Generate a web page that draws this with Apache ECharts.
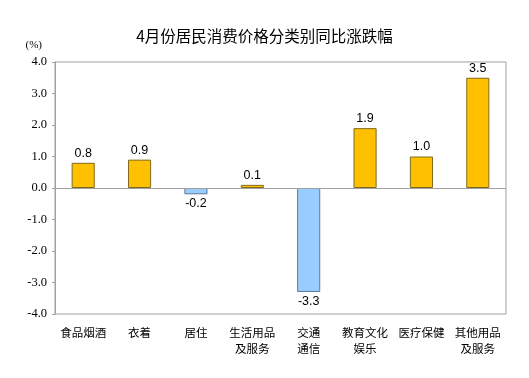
<!DOCTYPE html>
<html>
<head>
<meta charset="utf-8">
<script src="https://cdn.jsdelivr.net/npm/echarts@6/dist/echarts.min.js"></script>
<style>
  html, body { margin: 0; padding: 0; background: #fff; }
  #main { width: 529px; height: 378px; }
</style>
</head>
<body>
<div id="main"></div>
<script>
// 分类
const categories = ['食品烟酒', '衣着', '居住', '生活用品\n及服务', '交通\n通信', '教育文化\n娱乐', '医疗保健', '其他用品\n及服务']
// 同比涨跌幅 (%)
const values = [0.8, 0.9, -0.2, 0.1, -3.3, 1.9, 1.0, 3.5]
const titleText = '4月份居民消费价格分类别同比涨跌幅'

const chart = echarts.init(document.getElementById('main'))

const barData = values.map(v => ({
  value: v,
  itemStyle: v >= 0
    ? { color: '#FFC000', borderColor: '#7F6A1E', borderWidth: 1 }
    : { color: '#99CCFF', borderColor: '#5F7A96', borderWidth: 1 },
  label: { position: v >= 0 ? 'top' : 'bottom' }
}))

const option = {
  animation: false,
  title: {
    text: titleText,
    left: 'center',
    top: 23,
    textStyle: {
      fontFamily: '"Noto Sans CJK SC", sans-serif',
      fontSize: 15.5,
      fontWeight: 'normal',
      color: '#000'
    }
  },
  grid: {
    left: 55,
    right: 23,
    top: 62,
    bottom: 64,
    show: true,
    borderColor: '#A0A0A0',
    borderWidth: 1
  },
  xAxis: {
    type: 'category',
    data: categories,
    axisLine: { show: false, onZero: false },
    axisTick: { show: false },
    axisLabel: {
      color: '#000',
      fontSize: 11.5,
      fontFamily: '"Noto Sans CJK SC", sans-serif',
      margin: 11,
      lineHeight: 16,
      interval: 0
    }
  },
  yAxis: {
    type: 'value',
    min: -4,
    max: 4,
    interval: 1,
    name: '(%)',
    nameGap: 11,
    nameTextStyle: {
      color: '#000',
      fontSize: 11,
      fontFamily: '"Liberation Serif", "DejaVu Serif", serif',
      align: 'right',
      padding: [0, 13, 0, 0]
    },
    axisLine: { show: true, lineStyle: { color: '#A0A0A0' } },
    axisTick: { show: true, length: 3, lineStyle: { color: '#A0A0A0' } },
    splitLine: { show: false },
    axisLabel: {
      color: '#000',
      fontSize: 12.5,
      fontFamily: '"Liberation Serif", "DejaVu Serif", serif',
      margin: 8,
      formatter: v => v.toFixed(1)
    }
  },
  series: [{
    type: 'bar',
    data: barData,
    barWidth: '41%',
    label: {
      show: true,
      color: '#000',
      fontSize: 12.5,
      fontFamily: '"Liberation Sans", Arial, sans-serif',
      distance: 3,
      formatter: p => p.value.toFixed(1)
    },
    markLine: {
      silent: true,
      symbol: 'none',
      label: { show: false },
      lineStyle: { color: '#A0A0A0', type: 'solid', width: 1 },
      data: [{ yAxis: 0 }]
    }
  }]
}

chart.setOption(option)
</script>
</body>
</html>
